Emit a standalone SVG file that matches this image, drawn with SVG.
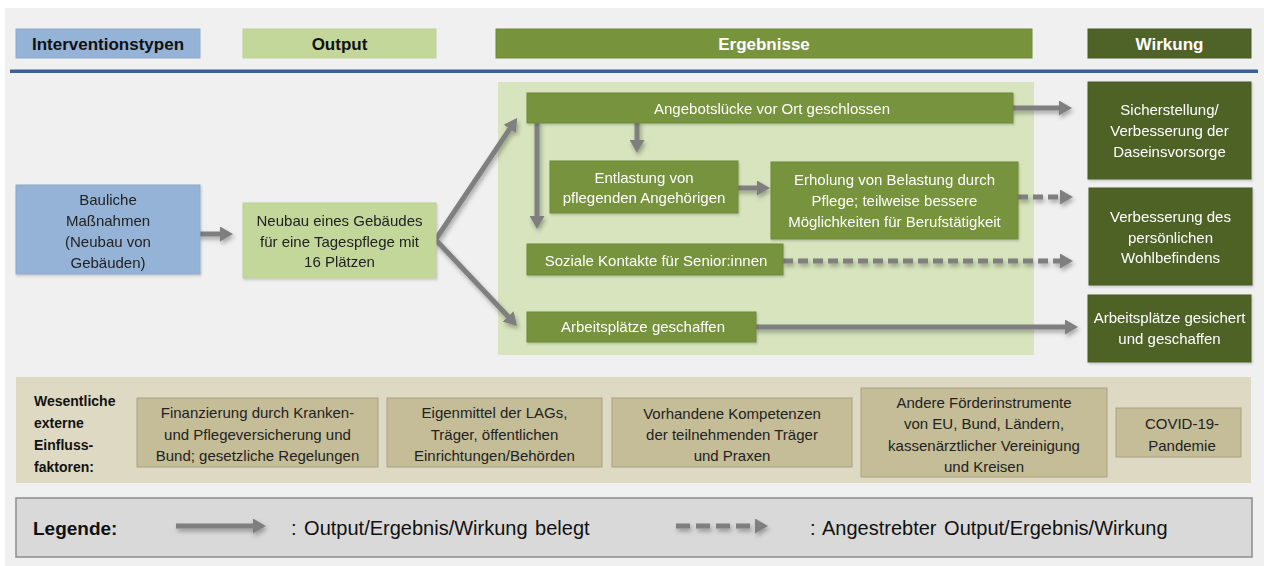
<svg xmlns="http://www.w3.org/2000/svg" width="1264" height="566" viewBox="0 0 1264 566">
<defs>
<style>
text{font-family:"Liberation Sans",Arial,sans-serif}
.t{font-size:15px;text-anchor:middle;fill:#222}
.tw{font-size:15px;text-anchor:middle;fill:#fff}
.h{font-size:17px;font-weight:bold;text-anchor:middle}
.blue{fill:#95b3d7;stroke:#8eaacb;stroke-width:1}
.lg{fill:#c4d79b;stroke:#bccf94;stroke-width:1}
.g{fill:#77933c;stroke:#6f8a38;stroke-width:1}
.dg{fill:#4f6228;stroke:#485a25;stroke-width:1}
.fac{fill:#c4bd97;stroke:#a8a184;stroke-width:1}
.con{fill:none;stroke:#7f7f7f;stroke-width:5;marker-end:url(#ah)}
.dash{stroke-dasharray:10 5}
.dashL{stroke-dasharray:14 6}
.lt{font-size:20px;fill:#111}
</style>
<marker id="ah" markerUnits="userSpaceOnUse" markerWidth="14" markerHeight="15" refX="1" refY="7.5" orient="auto" viewBox="0 0 14 15">
<path d="M0,0 L13,7.5 L0,15 z" fill="#7f7f7f"/>
</marker>
<filter id="sh" filterUnits="userSpaceOnUse" x="0" y="0" width="1264" height="566">
<feDropShadow dx="1.5" dy="3" stdDeviation="2" flood-color="#000" flood-opacity="0.3"/>
</filter>
<filter id="bs" x="-10%" y="-10%" width="120%" height="130%">
<feDropShadow dx="1" dy="1.5" stdDeviation="1.2" flood-color="#000" flood-opacity="0.18"/>
</filter>
</defs>

<rect x="0" y="0" width="1264" height="566" fill="#ffffff"/>
<rect x="5" y="8" width="1259" height="558" fill="#f0f0f0"/>

<g id="headers">
<g id="h-interventionstypen"><rect class="blue" x="16" y="29" width="184" height="29"/><text class="h" x="108" y="49.5" fill="#111">Interventionstypen</text></g>
<g id="h-output"><rect class="lg" x="243" y="29" width="193" height="29"/><text class="h" x="339.5" y="49.5" fill="#111">Output</text></g>
<g id="h-ergebnisse"><rect class="g" x="496" y="29" width="536" height="29"/><text class="h" x="764" y="49.5" fill="#fff">Ergebnisse</text></g>
<g id="h-wirkung"><rect class="dg" x="1088" y="29" width="163" height="29"/><text class="h" x="1169.5" y="49.5" fill="#fff">Wirkung</text></g>
</g>
<rect x="10" y="69.5" width="1248" height="3.5" fill="#3a6195"/>

<rect id="ergebnis-bereich" x="498" y="82" width="536" height="273" fill="#d7e4bd"/>

<g id="connectors" filter="url(#sh)">
<path class="con" d="M198,234 H221"/>
<path class="con" d="M434,242 L510.4,128"/>
<path class="con" d="M434,238 L508.8,317.2"/>
<path class="con" d="M1010,108 H1060"/>
<path class="con" d="M537,120 V217"/>
<path class="con" d="M637,120 V141"/>
<path class="con" d="M736,188 H758"/>
<path class="con dash" d="M1018,197 H1061"/>
<path class="con dash" d="M783,261 H1061"/>
<path class="con" d="M754,327 H1066"/>
</g>

<g id="n-bauliche" filter="url(#bs)"><rect class="blue" x="16" y="185" width="184" height="89"/>
<text class="t"><tspan x="108" y="205">Bauliche</tspan><tspan x="108" y="226">Maßnahmen</tspan><tspan x="108" y="247">(Neubau von</tspan><tspan x="108" y="268">Gebäuden)</tspan></text></g>

<g id="n-neubau" filter="url(#bs)"><rect class="lg" x="243" y="203" width="193" height="75"/>
<text class="t"><tspan x="339.5" y="226">Neubau eines Gebäudes</tspan><tspan x="339.5" y="247">für eine Tagespflege mit</tspan><tspan x="339.5" y="267">16 Plätzen</tspan></text></g>

<g id="n-angebotsluecke" filter="url(#bs)"><rect class="g" x="527" y="93" width="486" height="30"/>
<text class="tw" x="772" y="114">Angebotslücke vor Ort geschlossen</text></g>

<g id="n-entlastung" filter="url(#bs)"><rect class="g" x="550" y="161" width="188" height="52"/>
<text class="tw"><tspan x="644" y="183">Entlastung von</tspan><tspan x="644" y="203">pflegenden Angehörigen</tspan></text></g>

<g id="n-erholung" filter="url(#bs)"><rect class="g" x="771" y="162" width="247" height="77"/>
<text class="tw"><tspan x="894.5" y="185">Erholung von Belastung durch</tspan><tspan x="894.5" y="206">Pflege; teilweise bessere</tspan><tspan x="894.5" y="227">Möglichkeiten für Berufstätigkeit</tspan></text></g>

<g id="n-soziale" filter="url(#bs)"><rect class="g" x="527" y="244" width="256" height="31"/>
<text class="tw" x="656" y="266">Soziale Kontakte für Senior:innen</text></g>

<g id="n-arbeitsplaetze" filter="url(#bs)"><rect class="g" x="527" y="312" width="229" height="30"/>
<text class="tw" x="643" y="332">Arbeitsplätze geschaffen</text></g>

<g id="n-sicherstellung" filter="url(#bs)"><rect class="dg" x="1088" y="82" width="163" height="97"/>
<text class="tw"><tspan x="1169.5" y="115">Sicherstellung/</tspan><tspan x="1169.5" y="136">Verbesserung der</tspan><tspan x="1169.5" y="157">Daseinsvorsorge</tspan></text></g>

<g id="n-wohlbefinden" filter="url(#bs)"><rect class="dg" x="1089" y="188" width="163" height="97"/>
<text class="tw"><tspan x="1170.5" y="222">Verbesserung des</tspan><tspan x="1170.5" y="243">persönlichen</tspan><tspan x="1170.5" y="263">Wohlbefindens</tspan></text></g>

<g id="n-arbeitsplaetze-gesichert" filter="url(#bs)"><rect class="dg" x="1088" y="295" width="163" height="67"/>
<text class="tw"><tspan x="1169.5" y="323">Arbeitsplätze gesichert</tspan><tspan x="1169.5" y="344">und geschaffen</tspan></text></g>

<g id="einflussfaktoren">
<rect x="16" y="377" width="1235" height="106" fill="#ddd9c3"/>
<text font-size="14px" font-weight="bold" fill="#111"><tspan x="34" y="406">Wesentliche</tspan><tspan x="34" y="428">externe</tspan><tspan x="34" y="450">Einfluss-</tspan><tspan x="34" y="472">faktoren:</tspan></text>
<g id="f-finanzierung"><rect class="fac" x="137" y="398" width="241" height="69"/>
<text class="t"><tspan x="257.5" y="418">Finanzierung durch Kranken-</tspan><tspan x="257.5" y="440">und Pflegeversicherung und</tspan><tspan x="257.5" y="461">Bund; gesetzliche Regelungen</tspan></text></g>
<g id="f-eigenmittel"><rect class="fac" x="387" y="398" width="215" height="69"/>
<text class="t"><tspan x="494.5" y="418">Eigenmittel der LAGs,</tspan><tspan x="494.5" y="440">Träger, öffentlichen</tspan><tspan x="494.5" y="461">Einrichtungen/Behörden</tspan></text></g>
<g id="f-kompetenzen"><rect class="fac" x="612" y="398" width="240" height="69"/>
<text class="t"><tspan x="732" y="419">Vorhandene Kompetenzen</tspan><tspan x="732" y="440">der teilnehmenden Träger</tspan><tspan x="732" y="461">und Praxen</tspan></text></g>
<g id="f-foerderinstrumente"><rect class="fac" x="861" y="388" width="246" height="89"/>
<text class="t"><tspan x="984" y="408">Andere Förderinstrumente</tspan><tspan x="984" y="429">von EU, Bund, Ländern,</tspan><tspan x="984" y="451">kassenärztlicher Vereinigung</tspan><tspan x="984" y="472">und Kreisen</tspan></text></g>
<g id="f-covid"><rect class="fac" x="1116" y="408" width="125" height="49"/>
<text class="t"><tspan x="1182" y="429">COVID-19-</tspan><tspan x="1182" y="451">Pandemie</tspan></text></g>
</g>

<g id="legende">
<rect x="16" y="498" width="1236" height="59" fill="#d9d9d9" stroke="#8c8c8c" stroke-width="1.5"/>
<text x="33" y="535" font-size="19px" font-weight="bold" fill="#111">Legende:</text>
<g filter="url(#sh)">
<path class="con" d="M176,526 H254"/>
<path class="con dashL" d="M676,526 H756"/>
</g>
<text class="lt" x="291" y="535" word-spacing="2">:  Output/Ergebnis/Wirkung belegt</text>
<text class="lt" x="810" y="535" word-spacing="2">:  Angestrebter Output/Ergebnis/Wirkung</text>
</g>
</svg>
